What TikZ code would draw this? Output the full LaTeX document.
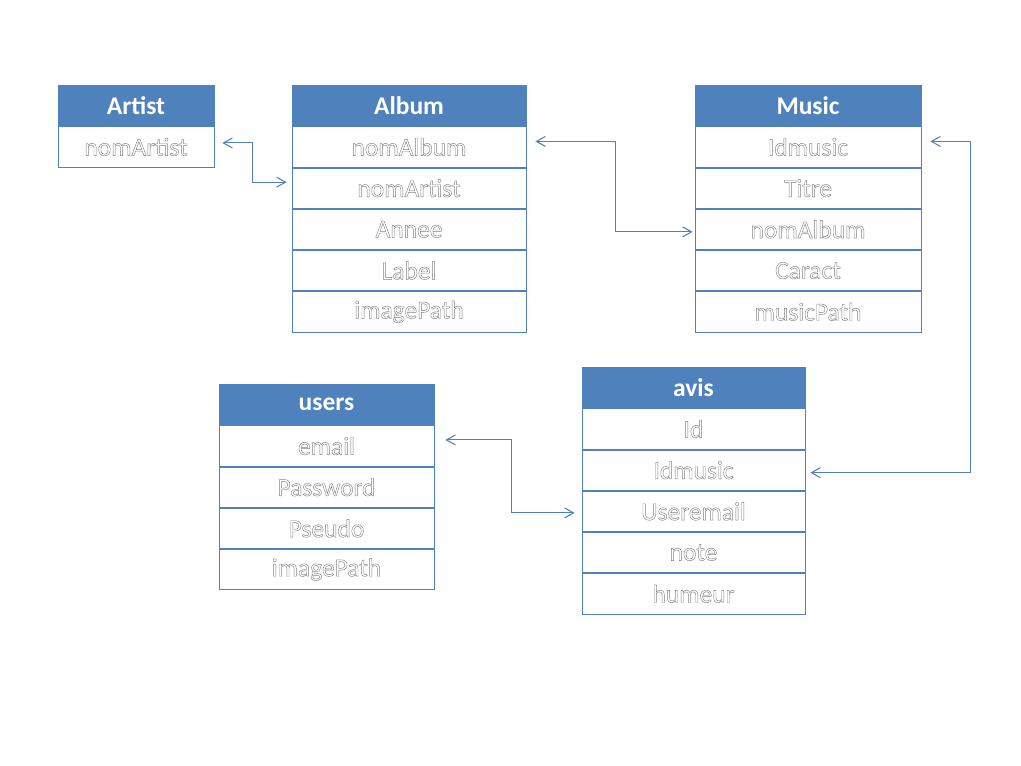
\documentclass[tikz,border=0pt]{standalone}
\usepackage{fontspec}
\setmainfont{Carlito}
\usetikzlibrary{positioning,arrows.meta}
\definecolor{tblue}{RGB}{79,129,189}
% outlined field text (white fill, grey stroke)
\newcommand\outl[1]{\special{pdf:literal 2 Tr 0.25 w 0.5 G}#1\special{pdf:literal 0 Tr}}

\begin{document}
\begin{tikzpicture}[
    node distance=0pt,
    hdr/.style={rectangle, draw=tblue, fill=tblue, text=white, minimum height=0.82cm, inner sep=0pt, font=\fontsize{14.5}{17}\selectfont\bfseries},
    fld/.style={rectangle, draw=tblue, fill=white, text=white, minimum height=0.81cm, inner sep=0pt, font=\fontsize{14.5}{17}\selectfont},
    link/.style={{Straight Barb[length=0.18cm,width=0.2cm]}-{Straight Barb[length=0.18cm,width=0.2cm]}, draw=tblue, line width=0.6pt}
]
\useasboundingbox (0,0) rectangle (20.42,-15.3);

% Artist
\node[hdr, minimum width=3.12cm] (art) at (2.72,-2.11) {Artist};
\node[fld, minimum width=3.12cm, below=of art] (art1) {\outl{nomArtist}};

% Album
\node[hdr, minimum width=4.68cm] (alb) at (8.18,-2.11) {Album};
\node[fld, minimum width=4.68cm, below=of alb] (alb1) {\outl{nomAlbum}};
\node[fld, minimum width=4.68cm, below=of alb1] (alb2) {\outl{nomArtist}};
\node[fld, minimum width=4.68cm, below=of alb2] (alb3) {\outl{Annee}};
\node[fld, minimum width=4.68cm, below=of alb3] (alb4) {\outl{Label}};
\node[fld, minimum width=4.68cm, below=of alb4] (alb5) {\outl{imagePath}};

% Music
\node[hdr, minimum width=4.52cm] (mus) at (16.16,-2.11) {Music};
\node[fld, minimum width=4.52cm, below=of mus] (mus1) {\outl{Idmusic}};
\node[fld, minimum width=4.52cm, below=of mus1] (mus2) {\outl{Titre}};
\node[fld, minimum width=4.52cm, below=of mus2] (mus3) {\outl{nomAlbum}};
\node[fld, minimum width=4.52cm, below=of mus3] (mus4) {\outl{Caract}};
\node[fld, minimum width=4.52cm, below=of mus4] (mus5) {\outl{musicPath}};

% users
\node[hdr, minimum width=4.3cm] (usr) at (6.53,-8.09) {users};
\node[fld, minimum width=4.3cm, below=of usr] (usr1) {\outl{email}};
\node[fld, minimum width=4.3cm, below=of usr1] (usr2) {\outl{Password}};
\node[fld, minimum width=4.3cm, below=of usr2] (usr3) {\outl{Pseudo}};
\node[fld, minimum width=4.3cm, below=of usr3] (usr4) {\outl{imagePath}};

% avis
\node[hdr, minimum width=4.46cm] (avs) at (13.87,-7.75) {avis};
\node[fld, minimum width=4.46cm, below=of avs] (avs1) {\outl{Id}};
\node[fld, minimum width=4.46cm, below=of avs1] (avs2) {\outl{Idmusic}};
\node[fld, minimum width=4.46cm, below=of avs2] (avs3) {\outl{Useremail}};
\node[fld, minimum width=4.46cm, below=of avs3] (avs4) {\outl{note}};
\node[fld, minimum width=4.46cm, below=of avs4] (avs5) {\outl{humeur}};

% Links
\draw[link] ([xshift=0.16cm,yshift=0.08cm]art1.east) -- ++(0.6,0) |- ([xshift=-0.1cm,yshift=0.12cm]alb2.west);
\draw[link] ([xshift=0.18cm,yshift=0.11cm]alb1.east) -- ++(1.6,0) |- ([xshift=-0.04cm,yshift=-0.05cm]mus3.west);
\draw[link] ([xshift=0.18cm,yshift=0.11cm]mus1.east) -- ++(0.8,0) |- ([xshift=0.1cm,yshift=-0.05cm]avs2.east);
\draw[link] ([xshift=0.22cm,yshift=0.12cm]usr1.east) -- ++(1.32,0) |- ([xshift=-0.14cm,yshift=-0.03cm]avs3.west);

\end{tikzpicture}
\end{document}
